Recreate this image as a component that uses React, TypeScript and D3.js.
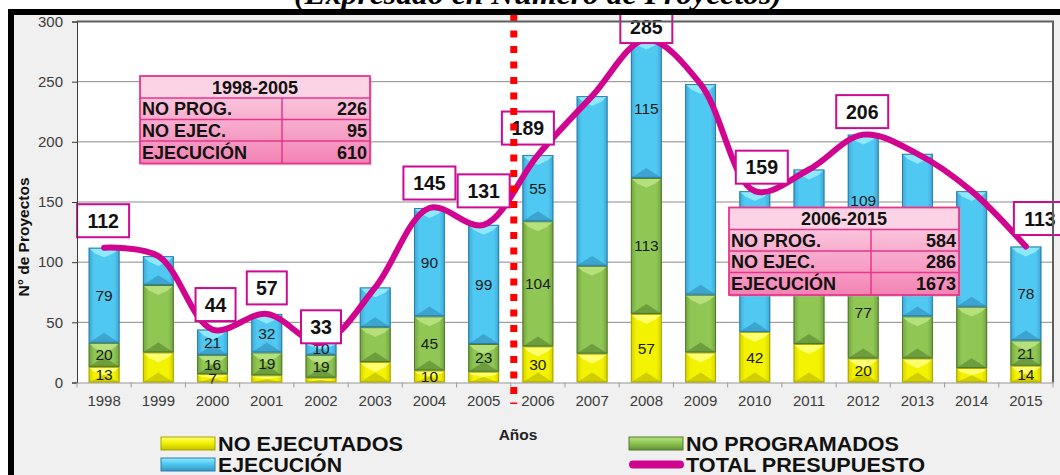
import { useEffect, useRef } from "react";
import * as d3 from "d3";

// --- data ---
const years = [
  "1998", "1999", "2000", "2001", "2002", "2003", "2004", "2005", "2006",
  "2007", "2008", "2009", "2010", "2011", "2012", "2013", "2014", "2015",
];
const noEjecutados = [13, 25, 7, 6, 4, 17, 10, 9, 30, 24, 57, 25, 42, 32, 20, 20, 12, 14];
const noProgramados = [20, 56, 16, 19, 19, 29, 45, 23, 104, 73, 113, 48, 0, 62, 77, 35, 51, 21];
const ejecucion = [79, 24, 21, 32, 10, 33, 90, 99, 55, 141, 115, 175, 117, 83, 109, 135, 96, 78];
const totalPresupuesto = [112, 105, 44, 57, 33, 79, 145, 131, 189, 238, 285, 248, 159, 177, 206, 190, 159, 113];

// which segments carry a value label
const yellowLabelYears = ["1998", "2000", "2004", "2006", "2008", "2010", "2012", "2015"];
const greenLabelYears = ["1998", "2000", "2001", "2002", "2004", "2005", "2006", "2008", "2012", "2015"];
const blueLabelYears = ["1998", "2000", "2001", "2002", "2004", "2005", "2006", "2008", "2012", "2015"];

// years with a boxed total, and where the box sits relative to the point
const totalBoxYears = ["1998", "2000", "2001", "2002", "2004", "2005", "2006", "2008", "2010", "2012", "2015"];
const totalBoxOffsets = [[-1, -27], [3, -25], [0, -26], [0, -16], [0, -25], [0, -34], [-10, -27], [0, -13], [7, -24], [-1, -23], [14, -28]];

const yTicks = [0, 50, 100, 150, 200, 250, 300];

const periodOneTitle = "1998-2005";
const periodOneLabels = ["NO PROG.", "NO EJEC.", "EJECUCIÓN"];
const periodOneValues = [226, 95, 610];
const periodTwoTitle = "2006-2015";
const periodTwoLabels = ["NO PROG.", "NO EJEC.", "EJECUCIÓN"];
const periodTwoValues = [584, 286, 1673];

const W = 1060;
const H = 475;
const plot = { left: 77, right: 1053, top: 21.5, bottom: 382.5 };
const SANS = "'Liberation Sans', Arial, sans-serif";
const NARROW = "'Liberation Sans Narrow', 'Arial Narrow', 'Liberation Sans', sans-serif";

const palettes = {
  yellow: { edge: "#a9a500", side: "#d3d000", mid: "#f3f300", top: "#ffff7a", bottom: "#c4c000" },
  green: { edge: "#4f7a2a", side: "#72a23f", mid: "#8fc654", top: "#b9e27f", bottom: "#628f35" },
  blue: { edge: "#2a7fa8", side: "#3ea6d4", mid: "#50c9f2", top: "#95ebff", bottom: "#3597c2" },
};

export default function App() {
  const svgRef = useRef<SVGSVGElement>(null);

  useEffect(() => {
    const svg = d3.select(svgRef.current);
    svg.selectAll("*").remove();

    const x = d3
      .scaleBand()
      .domain(years)
      .range([plot.left, plot.right])
      .paddingInner(0.43)
      .paddingOuter(0.215);
    const y = d3.scaleLinear().domain([0, 300]).range([plot.bottom, plot.top]);
    const cx = (yr: string) => (x(yr) as number) + x.bandwidth() / 2;

    const defs = svg.append("defs");
    Object.entries(palettes).forEach(([key, p]) => {
      const g = defs.append("linearGradient").attr("id", `bar-${key}`).attr("x1", "0%").attr("x2", "100%");
      g.append("stop").attr("offset", "0%").attr("stop-color", p.side);
      g.append("stop").attr("offset", "18%").attr("stop-color", p.mid);
      g.append("stop").attr("offset", "82%").attr("stop-color", p.mid);
      g.append("stop").attr("offset", "100%").attr("stop-color", p.side);
      const v = defs.append("linearGradient").attr("id", `sw-${key}`).attr("x1", "0%").attr("x2", "0%").attr("y1", "0%").attr("y2", "100%");
      v.append("stop").attr("offset", "0%").attr("stop-color", p.top);
      v.append("stop").attr("offset", "45%").attr("stop-color", p.mid);
      v.append("stop").attr("offset", "100%").attr("stop-color", p.bottom);
    });
    const tg = defs.append("linearGradient").attr("id", "table-body").attr("x1", "0%").attr("x2", "0%").attr("y1", "0%").attr("y2", "100%");
    tg.append("stop").attr("offset", "0%").attr("stop-color", "#fdd9e8");
    tg.append("stop").attr("offset", "100%").attr("stop-color", "#f383b4");

    // background panel
    svg.append("rect").attr("x", 0).attr("y", 0).attr("width", W).attr("height", H).attr("fill", "#ffffff");
    svg.append("rect").attr("x", 14).attr("y", 15).attr("width", W - 14).attr("height", H - 15).attr("fill", "#f0f0f0");
    svg
      .append("rect")
      .attr("x", plot.left)
      .attr("y", plot.top)
      .attr("width", plot.right - plot.left)
      .attr("height", plot.bottom - plot.top)
      .attr("fill", "#ffffff");

    // title (cut off by the frame)
    svg
      .append("text")
      .attr("x", 538)
      .attr("y", 4)
      .attr("text-anchor", "middle")
      .attr("font-family", "'Liberation Serif', 'Times New Roman', serif")
      .attr("font-style", "italic")
      .attr("font-weight", "bold")
      .attr("font-size", 29)
      .attr("textLength", 488)
      .attr("lengthAdjust", "spacingAndGlyphs")
      .text("(Expresado en Número de Proyectos)");

    // gridlines
    svg
      .append("g")
      .selectAll("line")
      .data(yTicks.filter((t) => t > 0))
      .enter()
      .append("line")
      .attr("x1", plot.left)
      .attr("x2", plot.right)
      .attr("y1", (d) => y(d))
      .attr("y2", (d) => y(d))
      .attr("stroke", "#8a8a8a")
      .attr("stroke-width", 1);

    // stacked bevelled bars
    const series = [
      { key: "yellow", values: noEjecutados, labels: yellowLabelYears },
      { key: "green", values: noProgramados, labels: greenLabelYears },
      { key: "blue", values: ejecucion, labels: blueLabelYears },
    ];
    const bars = svg.append("g");
    const segLabels: { x: number; y: number; v: number }[] = [];
    years.forEach((yr, i) => {
      let base = 0;
      series.forEach((s) => {
        const v = s.values[i];
        if (v <= 0) return;
        const p = palettes[s.key as keyof typeof palettes];
        const x0 = x(yr) as number;
        const w = x.bandwidth();
        const yTop = y(base + v);
        const yBot = y(base);
        const h = yBot - yTop;
        const t = Math.min(w * 0.32, h / 2);
        const seg = bars.append("g");
        seg.append("rect").attr("x", x0).attr("y", yTop).attr("width", w).attr("height", h).attr("fill", `url(#bar-${s.key})`);
        seg
          .append("polygon")
          .attr("points", `${x0},${yTop} ${x0 + w},${yTop} ${x0 + w - t * 0.6},${yTop + t * 0.55} ${x0 + w / 2},${yTop + t} ${x0 + t * 0.6},${yTop + t * 0.55}`)
          .attr("fill", p.top)
          .attr("opacity", 0.9);
        seg
          .append("polygon")
          .attr("points", `${x0},${yBot} ${x0 + w},${yBot} ${x0 + w / 2},${yBot - t}`)
          .attr("fill", p.bottom)
          .attr("opacity", 0.75);
        seg
          .append("rect")
          .attr("x", x0 + 0.5)
          .attr("y", yTop + 0.5)
          .attr("width", w - 1)
          .attr("height", Math.max(h - 1, 0))
          .attr("fill", "none")
          .attr("stroke", p.edge)
          .attr("stroke-width", 1);
        if (s.labels.includes(yr)) segLabels.push({ x: x0 + w / 2, y: (yTop + yBot) / 2, v });
        base += v;
      });
    });

    svg
      .append("g")
      .selectAll("text")
      .data(segLabels)
      .enter()
      .append("text")
      .attr("x", (d) => d.x)
      .attr("y", (d) => d.y + 5.5)
      .attr("text-anchor", "middle")
      .attr("font-family", SANS)
      .attr("font-size", 15.5)
      .attr("fill", "#1a1a1a")
      .text((d) => d.v);

    // total line
    const line = d3
      .line<number>()
      .x((_, i) => cx(years[i]))
      .y((d) => y(d))
      .curve(d3.curveCatmullRom.alpha(0.5));
    svg
      .append("path")
      .attr("d", line(totalPresupuesto))
      .attr("fill", "none")
      .attr("stroke", "#d1048f")
      .attr("stroke-width", 6)
      .attr("stroke-linecap", "round")
      .attr("stroke-linejoin", "round");

    // boxed totals
    const boxes = svg.append("g");
    totalBoxYears.forEach((yr, k) => {
      const i = years.indexOf(yr);
      const v = totalPresupuesto[i];
      const [dx, dy] = totalBoxOffsets[k];
      const bx = cx(yr) + dx;
      const by = y(v) + dy;
      const bw = String(v).length > 2 ? 52 : 40;
      const bh = 33;
      boxes
        .append("rect")
        .attr("x", bx - bw / 2)
        .attr("y", by - bh / 2)
        .attr("width", bw)
        .attr("height", bh)
        .attr("fill", "#ffffff")
        .attr("stroke", "#cc0a94")
        .attr("stroke-width", 2);
      boxes
        .append("text")
        .attr("x", bx)
        .attr("y", by + 7)
        .attr("text-anchor", "middle")
        .attr("font-family", SANS)
        .attr("font-weight", "bold")
        .attr("font-size", 19.5)
        .attr("fill", "#111")
        .text(v);
    });

    // period divider, between the 2005 and 2006 bands
    const divX = (x("2006") as number) - (x.step() - x.bandwidth()) / 2 + 3;
    svg
      .append("line")
      .attr("x1", divX)
      .attr("x2", divX)
      .attr("y1", 15)
      .attr("y2", 404)
      .attr("stroke", "#ff0000")
      .attr("stroke-width", 7)
      .attr("stroke-dasharray", "7 8.5");

    // summary tables
    const drawTable = (tx: number, ty: number, title: string, labels: string[], values: number[]) => {
      const tw = 230;
      const colX = tx + 142;
      const rowH = [22, 21.5, 21.5, 22.5];
      const th = d3.sum(rowH);
      const g = svg.append("g");
      g.append("rect").attr("x", tx + 2).attr("y", ty + 2).attr("width", tw).attr("height", th).attr("fill", "#b0b0b0").attr("opacity", 0.45);
      g.append("rect").attr("x", tx).attr("y", ty).attr("width", tw).attr("height", th).attr("fill", "url(#table-body)");
      g.append("rect").attr("x", tx).attr("y", ty).attr("width", tw).attr("height", rowH[0]).attr("fill", "#fcd3e4");
      g.append("rect").attr("x", tx).attr("y", ty).attr("width", tw).attr("height", th).attr("fill", "none").attr("stroke", "#e8348c").attr("stroke-width", 1.8);
      let yy = ty + rowH[0];
      g.append("line").attr("x1", colX).attr("x2", colX).attr("y1", yy).attr("y2", ty + th).attr("stroke", "#e8348c").attr("stroke-width", 1.5);
      g.append("text")
        .attr("x", tx + tw / 2)
        .attr("y", ty + rowH[0] / 2 + 6.5)
        .attr("text-anchor", "middle")
        .attr("font-family", SANS)
        .attr("font-weight", "bold")
        .attr("font-size", 18)
        .attr("fill", "#111")
        .text(title);
      labels.forEach((lab, r) => {
        const h = rowH[r + 1];
        g.append("line").attr("x1", tx).attr("x2", tx + tw).attr("y1", yy).attr("y2", yy).attr("stroke", "#e8348c").attr("stroke-width", 1.5);
        g.append("text")
          .attr("x", tx + 2)
          .attr("y", yy + h / 2 + 6.5)
          .attr("font-family", SANS)
          .attr("font-weight", "bold")
          .attr("font-size", 18)
          .attr("fill", "#111")
          .text(lab);
        g.append("text")
          .attr("x", tx + tw - 3)
          .attr("y", yy + h / 2 + 6.5)
          .attr("text-anchor", "end")
          .attr("font-family", SANS)
          .attr("font-weight", "bold")
          .attr("font-size", 18)
          .attr("fill", "#111")
          .text(values[r]);
        yy += h;
      });
    };
    drawTable(140, 76, periodOneTitle, periodOneLabels, periodOneValues);
    drawTable(729, 207.5, periodTwoTitle, periodTwoLabels, periodTwoValues);

    // plot frame (top + right)
    svg
      .append("path")
      .attr("d", `M${plot.left},${plot.top}H${plot.right}V${plot.bottom}`)
      .attr("fill", "none")
      .attr("stroke", "#5f5f5f")
      .attr("stroke-width", 2);

    // y axis
    const yAxis = svg
      .append("g")
      .attr("transform", `translate(${plot.left},0)`)
      .call(d3.axisLeft(y).tickValues(yTicks).tickSize(5).tickPadding(9));
    yAxis.select(".domain").attr("stroke", "#3a3a3a");
    yAxis.selectAll(".tick line").attr("stroke", "#3a3a3a");
    yAxis.selectAll("text").attr("font-family", SANS).attr("font-size", 15).attr("fill", "#3c3c3c");

    // x axis
    const xAxis = svg
      .append("g")
      .attr("transform", `translate(0,${plot.bottom})`)
      .call(d3.axisBottom(x).tickSize(0).tickPadding(13));
    xAxis.select(".domain").attr("stroke", "#9a9a9a");
    xAxis.selectAll("text").attr("font-family", SANS).attr("font-size", 15).attr("fill", "#3c3c3c");
    svg
      .append("g")
      .selectAll("line")
      .data(d3.range(years.length + 1))
      .enter()
      .append("line")
      .attr("x1", (d) => plot.left + d * x.step())
      .attr("x2", (d) => plot.left + d * x.step())
      .attr("y1", plot.bottom)
      .attr("y2", plot.bottom + 5)
      .attr("stroke", "#9a9a9a");

    // axis titles
    svg
      .append("text")
      .attr("transform", `translate(29,237) rotate(-90)`)
      .attr("text-anchor", "middle")
      .attr("font-family", SANS)
      .attr("font-weight", "bold")
      .attr("font-size", 15.5)
      .attr("fill", "#111")
      .text("N° de Proyectos");
    svg
      .append("text")
      .attr("x", 518)
      .attr("y", 440)
      .attr("text-anchor", "middle")
      .attr("font-family", SANS)
      .attr("font-weight", "bold")
      .attr("font-size", 15.5)
      .attr("fill", "#222")
      .text("Años");

    // legend
    const legend = svg.append("g");
    const legendItems = [
      { key: "yellow", label: "NO EJECUTADOS", x: 161, y: 437, len: 185 },
      { key: "green", label: "NO PROGRAMADOS", x: 629, y: 437, len: 213 },
      { key: "blue", label: "EJECUCIÓN", x: 161, y: 458, len: 124 },
      { key: "line", label: "TOTAL PRESUPUESTO", x: 629, y: 458, len: 239 },
    ];
    legendItems.forEach((it) => {
      if (it.key === "line") {
        legend
          .append("line")
          .attr("x1", it.x + 4)
          .attr("x2", it.x + 51)
          .attr("y1", it.y + 6.5)
          .attr("y2", it.y + 6.5)
          .attr("stroke", "#d1048f")
          .attr("stroke-width", 8)
          .attr("stroke-linecap", "round");
      } else {
        const p = palettes[it.key as keyof typeof palettes];
        legend
          .append("rect")
          .attr("x", it.x)
          .attr("y", it.y)
          .attr("width", 54)
          .attr("height", 13)
          .attr("fill", `url(#sw-${it.key})`)
          .attr("stroke", p.edge)
          .attr("stroke-width", 1);
      }
      legend
        .append("text")
        .attr("x", it.x + 57)
        .attr("y", it.y + 14)
        .attr("font-family", NARROW)
        .attr("font-weight", "bold")
        .attr("font-size", 21)
        .attr("fill", "#111")
        .attr("textLength", it.len)
        .attr("lengthAdjust", "spacingAndGlyphs")
        .text(it.label);
    });

    // black frame
    svg.append("rect").attr("x", 8).attr("y", 9).attr("width", W - 8).attr("height", 6).attr("fill", "#000");
    svg.append("rect").attr("x", 8).attr("y", 9).attr("width", 6).attr("height", H - 9).attr("fill", "#000");
  }, []);

  return (
    <svg
      ref={svgRef}
      width={W}
      height={H}
      viewBox={`0 0 ${W} ${H}`}
      style={{ position: "absolute", left: 0, top: 0, display: "block" }}
    />
  );
}
